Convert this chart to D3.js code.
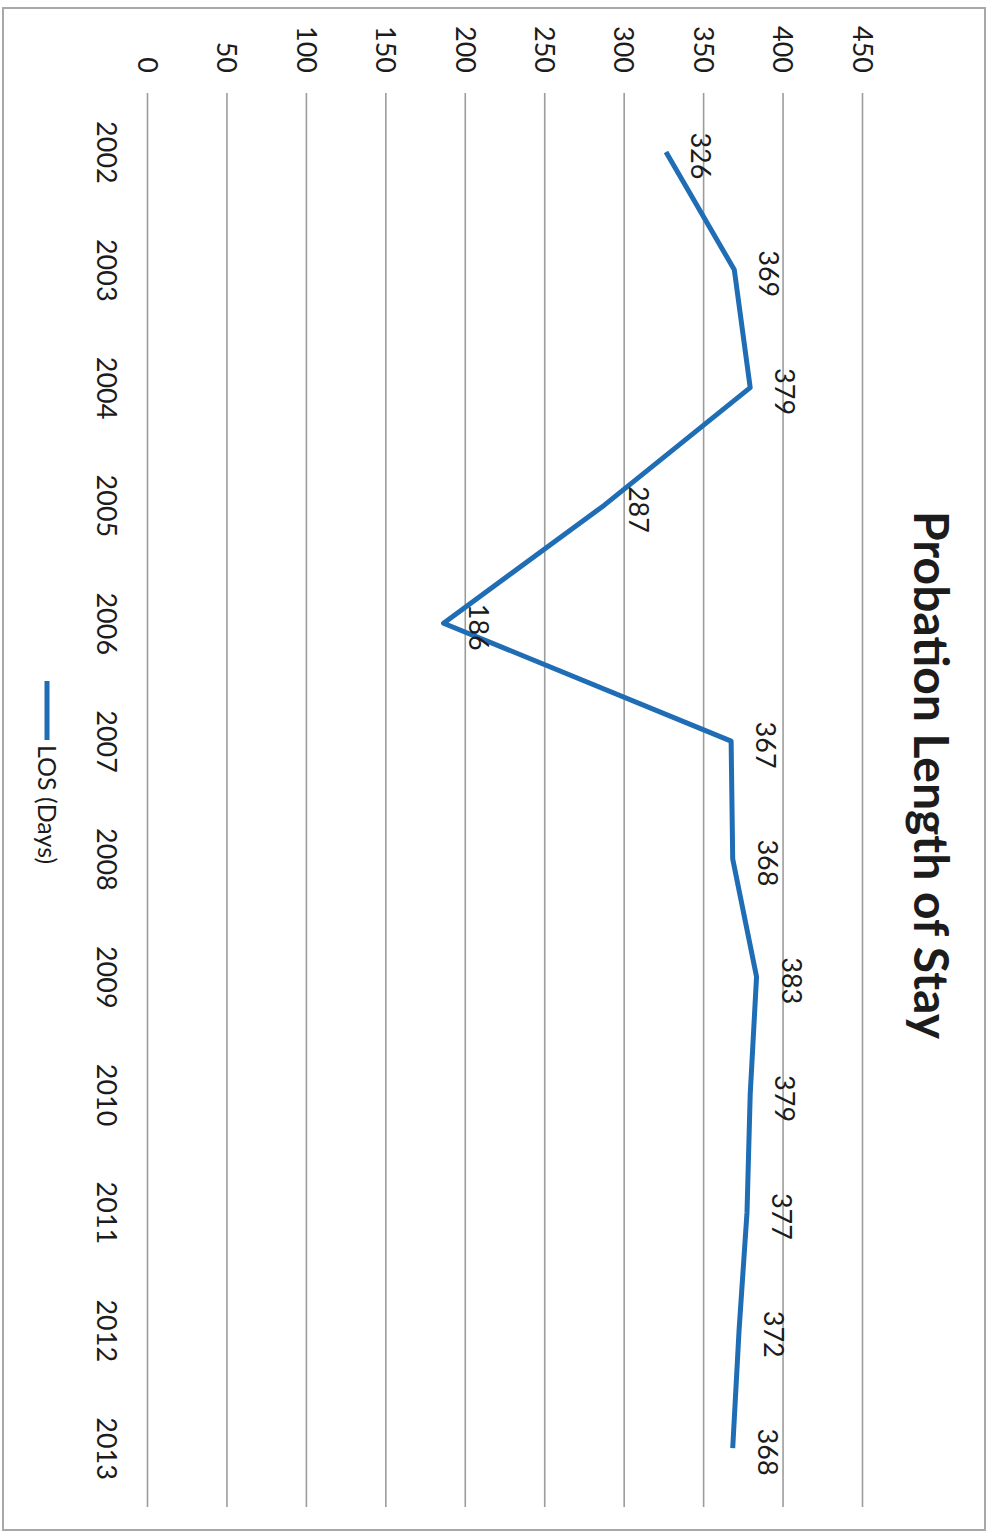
<!DOCTYPE html>
<html>
<head>
<meta charset="utf-8">
<script src="https://cdn.jsdelivr.net/npm/d3@7"></script>
<style>
  html, body { margin: 0; padding: 0; background: #ffffff; }
  svg { display: block; }
  text { font-family: Lato, "Liberation Sans", sans-serif; fill: #1c1c1c; }
</style>
</head>
<body>
<script>
// Probation length of stay, in days, by year
const years = ["2002", "2003", "2004", "2005", "2006", "2007", "2008", "2009", "2010", "2011", "2012", "2013"];
const losDays = [326, 369, 379, 287, 186, 367, 368, 383, 379, 377, 372, 368];
const valueTicks = [0, 50, 100, 150, 200, 250, 300, 350, 400, 450];
const seriesName = "LOS (Days)";
const chartTitle = "Probation Length of Stay";

const pageW = 992, pageH = 1535;
// The chart is laid out landscape, then turned a quarter turn clockwise.
const W = pageH, H = pageW;

const svg = d3.select("body").append("svg")
  .attr("width", pageW)
  .attr("height", pageH);

const g = svg.append("g")
  .attr("transform", `translate(${pageW},0) rotate(90)`);

// outer frame
g.append("rect")
  .attr("x", 8).attr("y", 7)
  .attr("width", 1522).attr("height", 982)
  .attr("fill", "none")
  .attr("stroke", "#a8a8a8")
  .attr("stroke-width", 2);

const plot = { left: 93, right: 1507, top: 129, bottom: 844 };

const x = d3.scalePoint()
  .domain(years)
  .range([plot.left, plot.right])
  .padding(0.5);

const y = d3.scaleLinear()
  .domain([0, 450])
  .range([plot.bottom, plot.top]);

// value axis with gridlines
const yAxis = g.append("g")
  .attr("transform", `translate(${plot.left},0)`)
  .call(d3.axisLeft(y)
    .tickValues(valueTicks)
    .tickSize(-(plot.right - plot.left))
    .tickPadding(20));
yAxis.select(".domain").remove();
yAxis.selectAll(".tick line")
  .attr("stroke", "#9c9c9c")
  .attr("stroke-width", 1.6);
yAxis.selectAll(".tick text")
  .attr("font-size", 27)
  .attr("dy", "0.36em")
  .attr("fill", "#1c1c1c");

// category axis
const xAxis = g.append("g")
  .attr("transform", `translate(0,${plot.bottom})`)
  .call(d3.axisBottom(x).tickSize(0).tickPadding(32));
xAxis.select(".domain").remove();
xAxis.selectAll(".tick text")
  .attr("font-size", 27)
  .attr("fill", "#1c1c1c");

// series line
const data = years.map((yr, i) => ({ year: yr, value: losDays[i] }));
const line = d3.line()
  .x(d => x(d.year))
  .y(d => y(d.value));

g.append("path")
  .datum(data)
  .attr("d", line)
  .attr("fill", "none")
  .attr("stroke", "#1f6db4")
  .attr("stroke-width", 5)
  .attr("stroke-linejoin", "round")
  .attr("stroke-linecap", "butt");

// data labels above each point
g.append("g")
  .selectAll("text")
  .data(data)
  .join("text")
  .attr("x", d => x(d.year) + 4)
  .attr("y", d => y(d.value) - 25)
  .attr("text-anchor", "middle")
  .attr("font-size", 27)
  .text(d => d.value);

// title
g.append("text")
  .attr("x", 775)
  .attr("y", 78)
  .attr("text-anchor", "middle")
  .attr("font-size", 48)
  .attr("font-weight", "bold")
  .attr("fill", "#111")
  .text(chartTitle);

// legend
const legend = g.append("g");
legend.append("line")
  .attr("x1", 681).attr("x2", 740)
  .attr("y1", 945).attr("y2", 945)
  .attr("stroke", "#1f6db4")
  .attr("stroke-width", 5);
legend.append("text")
  .attr("x", 745)
  .attr("y", 954)
  .attr("font-size", 25)
  .text(seriesName);
</script>
</body>
</html>
